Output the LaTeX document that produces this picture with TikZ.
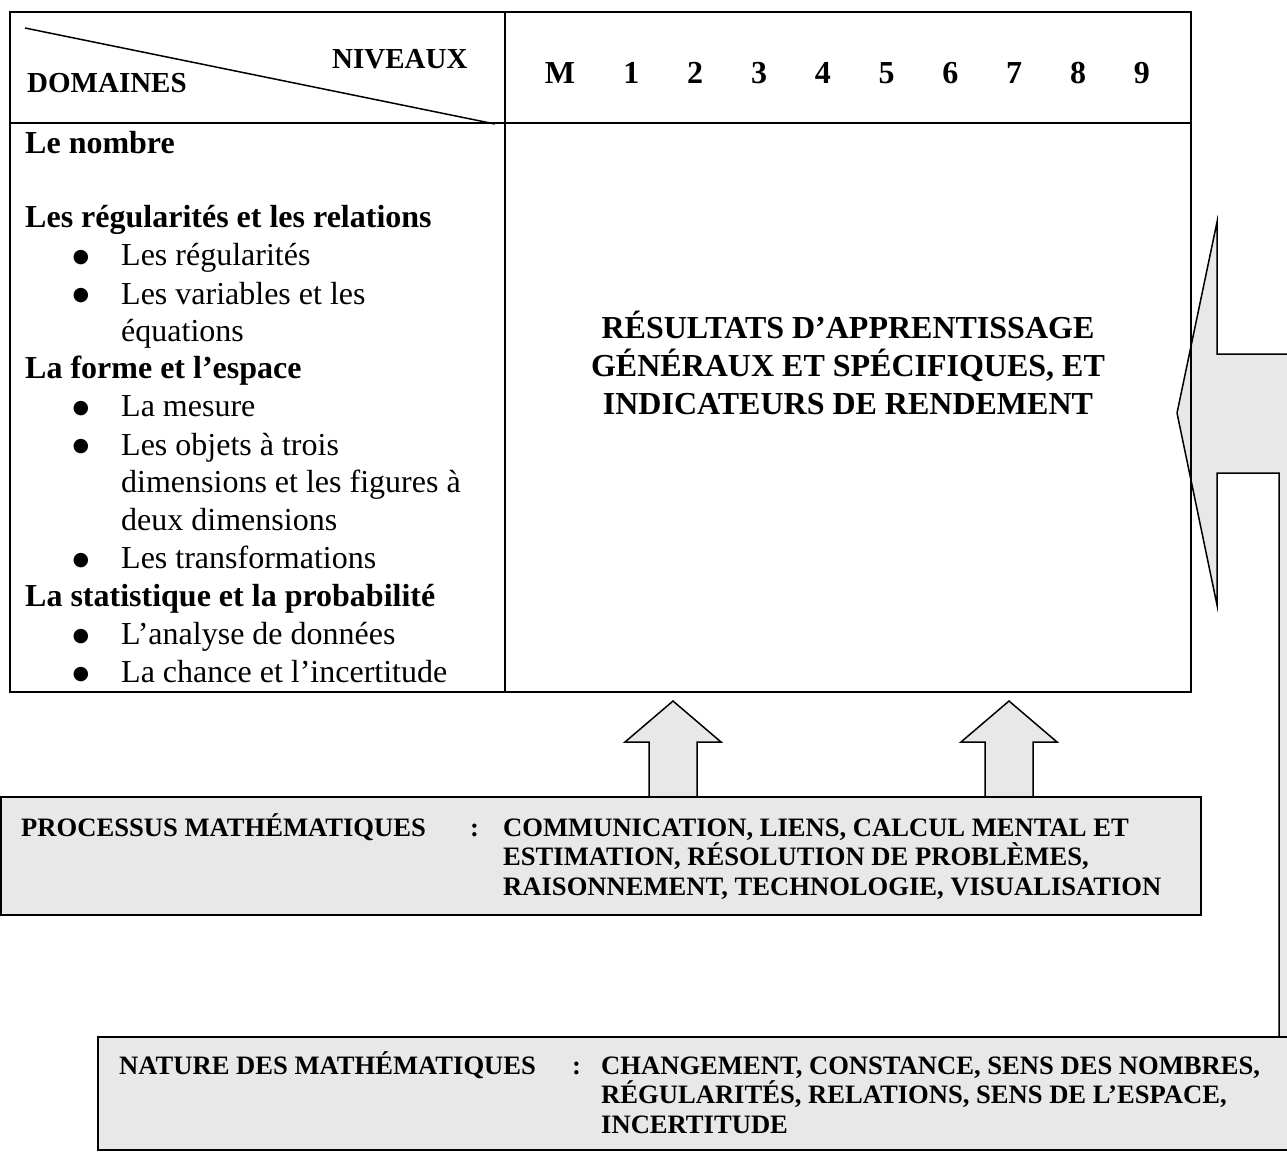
\documentclass[tikz,border=0pt]{standalone}
\usepackage{fontspec}
\setmainfont{Liberation Serif}
\newfontfamily\bulfont{DejaVu Sans}
\definecolor{boxgray}{RGB}{232,232,232}
\begin{document}
\begin{tikzpicture}[x=1pt,y=-1pt,
  txt/.style={inner sep=0pt,anchor=base west},
  ctr/.style={inner sep=0pt,anchor=base},
  bigb/.style={font=\bfseries\fontsize{32}{38}\selectfont},
  norm/.style={font=\fontsize{32}{38}\selectfont},
  hdr/.style={font=\bfseries\fontsize{29}{34}\selectfont},
  smallb/.style={font=\bfseries\fontsize{26.6}{30}\selectfont},
  bul/.style={inner sep=0pt,anchor=center,font=\bulfont\fontsize{19}{19}\selectfont},
  frame/.style={draw=black,line width=2pt},
  blockarrow/.style={fill=boxgray,draw=black,line width=1.5pt,line join=miter},
  grayframe/.style={fill=boxgray,draw=black,line width=2pt}]
\useasboundingbox (0,0) rectangle (1287,1152);
\clip (0,0) rectangle (1287,1152);

% big elbow arrow (drawn first, table border over it)
\draw[blockarrow] (1177,413) -- (1217,222) -- (1217,354) -- (1398,354) -- (1398,1037)
  -- (1279,1037) -- (1279,473) -- (1217,473) -- (1217,605) -- cycle;

% table
\coordinate (tl) at (10,12);
\coordinate (br) at (1191,692);
\draw[frame] (tl) rectangle (br);
\draw[frame] (505,12) -- (505,692);
\draw[frame] (10,123) -- (1191,123);
\draw[line width=1.5pt] (25,28) -- (495,124);

\node[txt,hdr] (niv) at (332,68) {NIVEAUX};
\node[txt,hdr] (dom) at (27,92) {DOMAINES};

\node[ctr,bigb] (gM) at (560,83) {M};
\foreach \d [count=\i from 0] in {1,2,3,4,5,6,7,8,9}{
  \node[ctr,bigb] (g\d) at (631.4+63.8*\i,83) {\d};
}

% left column
\node[txt,bigb] (h1) at (25,153) {Le nombre};
\node[txt,bigb] (h2) at (25,227.3) {Les régularités et les relations};
\node[bul] (b1) at (81,257.7) {●};
\node[txt,norm] (i1) at (121,265.7) {Les régularités};
\node[bul] (b2) at (81,296) {●};
\node[txt,norm] (i2) at (121,304) {Les variables et les};
\node[txt,norm] (i2b) at (121,341) {équations};
\node[txt,bigb] (h3) at (25,378.5) {La forme et l’espace};
\node[bul] (b3) at (81,408.7) {●};
\node[txt,norm] (i3) at (121,416.7) {La mesure};
\node[bul] (b4) at (81,447) {●};
\node[txt,norm] (i4) at (121,455) {Les objets à trois};
\node[txt,norm] (i4b) at (121,492.7) {dimensions et les figures à};
\node[txt,norm] (i4c) at (121,530) {deux dimensions};
\node[bul] (b5) at (81,560.3) {●};
\node[txt,norm] (i5) at (121,568.3) {Les transformations};
\node[txt,bigb] (h4) at (25,606) {La statistique et la probabilité};
\node[bul] (b6) at (81,636.5) {●};
\node[txt,norm] (i6) at (121,644.5) {L’analyse de données};
\node[bul] (b7) at (81,674.5) {●};
\node[txt,norm] (i7) at (121,682.5) {La chance et l’incertitude};

% central text
\node[ctr,bigb] (c1) at (848,338.5) {RÉSULTATS D’APPRENTISSAGE};
\node[ctr,bigb] (c2) at (848,376.5) {GÉNÉRAUX ET SPÉCIFIQUES, ET};
\node[ctr,bigb] (c3) at (848,414.5) {INDICATEURS DE RENDEMENT};

% small up arrows
\foreach \cx in {673,1009}{
  \draw[blockarrow] (\cx,701) -- (\cx+48,742) -- (\cx+24,742) -- (\cx+24,797)
    -- (\cx-24,797) -- (\cx-24,742) -- (\cx-48,742) -- cycle;
}

% processus box
\draw[grayframe] (1,797) rectangle (1201,915);
\node[txt,smallb] (pl) at (21,836) {PROCESSUS MATHÉMATIQUES};
\node[txt,smallb] (pc) at (470,836) {:};
\node[txt,smallb] (p1) at (503,836) {COMMUNICATION, LIENS, CALCUL MENTAL ET};
\node[txt,smallb] (p2) at (503,865.5) {ESTIMATION, RÉSOLUTION DE PROBLÈMES,};
\node[txt,smallb] (p3) at (503,895) {RAISONNEMENT, TECHNOLOGIE, VISUALISATION};

% nature box
\draw[grayframe] (98,1037) rectangle (1300,1150);
\node[txt,smallb] (nl) at (119,1074) {NATURE DES MATHÉMATIQUES};
\node[txt,smallb] (nc) at (572,1074) {:};
\node[txt,smallb] (n1) at (601,1074) {CHANGEMENT, CONSTANCE, SENS DES NOMBRES,};
\node[txt,smallb] (n2) at (601,1103.5) {RÉGULARITÉS, RELATIONS, SENS DE L’ESPACE,};
\node[txt,smallb] (n3) at (601,1133) {INCERTITUDE};
\end{tikzpicture}
\end{document}
